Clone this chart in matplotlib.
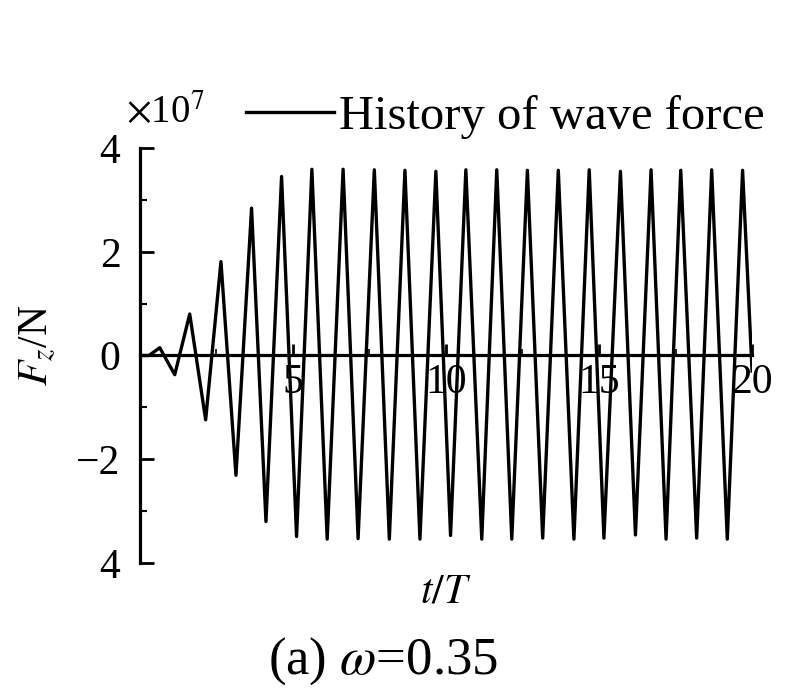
import matplotlib
matplotlib.use("Agg")
import matplotlib.pyplot as plt
import numpy as np

plt.rcParams['font.family'] = ['Liberation Serif', 'DejaVu Serif']
plt.rcParams['mathtext.fontset'] = 'stix'

# force in units of 1e7 N
start_t = [0.0, 0.30]
start_v = [0.0, 0.0]
peak_t = [0.65, 1.63, 2.65, 3.65, 4.63, 5.62, 6.64, 7.66, 8.66, 9.67,
          10.65, 11.66, 12.66, 13.67, 14.68, 15.70, 16.70, 17.67, 18.68, 19.69]
peak_v = [0.15, 0.80, 1.81, 2.84, 3.45, 3.59, 3.59, 3.58, 3.57, 3.55,
          3.58, 3.58, 3.57, 3.57, 3.58, 3.55, 3.58, 3.57, 3.58, 3.57]
trough_t = [1.14, 2.15, 3.14, 4.12, 5.12, 6.12, 7.13, 8.15, 9.15, 10.15,
            11.17, 12.15, 13.16, 14.18, 15.16, 16.19, 17.19, 18.19, 19.19]
trough_v = [-0.37, -1.24, -2.31, -3.20, -3.49, -3.54, -3.53, -3.54, -3.54, -3.47,
            -3.54, -3.54, -3.52, -3.54, -3.52, -3.46, -3.54, -3.52, -3.54]
end_t = [20.0]
end_v = [-0.3]

yticks = [-4, -2, 0, 2, 4]
yticklabels = ['4', '\u22122', '0', '2', '4']
xticks = [5, 10, 15, 20]
xticklabels = ['5', '10', '15', '20']

t = np.array(start_t + peak_t + trough_t + end_t)
f = np.array(start_v + peak_v + trough_v + end_v)
order = np.argsort(t)
t = t[order]
f = f[order]

fig = plt.figure(figsize=(7.9, 6.95), dpi=100)
ax = fig.add_axes([0.177, 0.190, 0.775, 0.597])

line, = ax.plot(t, f, color='black', lw=2.4, solid_joinstyle='round',
                label='History of wave force')

ax.set_xlim(0, 20)
ax.set_ylim(-4, 4)
ax.spines['top'].set_visible(False)
ax.spines['right'].set_visible(False)
ax.spines['bottom'].set_position(('data', 0))
ax.spines['bottom'].set_linewidth(2.3)
ax.spines['left'].set_linewidth(2.3)

ax.set_yticks(yticks)
ax.set_yticklabels(yticklabels)
ax.set_yticks([-3, -1, 1, 3], minor=True)
ax.set_xticks(xticks)
ax.set_xticklabels(xticklabels)
ax.set_xticks([2.5, 7.5, 12.5, 17.5], minor=True)
ax.tick_params(axis='y', which='major', direction='in', length=10, width=2, labelsize=30, pad=14)
ax.tick_params(axis='y', which='minor', direction='in', length=5, width=1.5)
ax.tick_params(axis='x', which='major', direction='in', length=8, width=2, labelsize=30, pad=6)
ax.tick_params(axis='x', which='minor', direction='in', length=4, width=1.2)

ax.text(0.5, -0.025, '$t/T$', transform=ax.transAxes, ha='center', va='top', fontsize=30)
fig.text(0.048, 0.503, '$F_z$/N', rotation=90, ha='center', va='center', fontsize=30)
fig.text(0.160, 0.822, r'$\times$10$^7$', ha='left', va='baseline', fontsize=28)
fig.text(0.485, 0.012, r'(a) $\omega$=0.35', ha='center', va='bottom', fontsize=38)

fig.legend(handles=[line], loc='lower left', bbox_to_anchor=(0.312, 0.800),
           frameon=False, fontsize=35, handlelength=1.8, handletextpad=0.1,
           borderpad=0, borderaxespad=0)

fig.savefig('out.png', dpi=100)
